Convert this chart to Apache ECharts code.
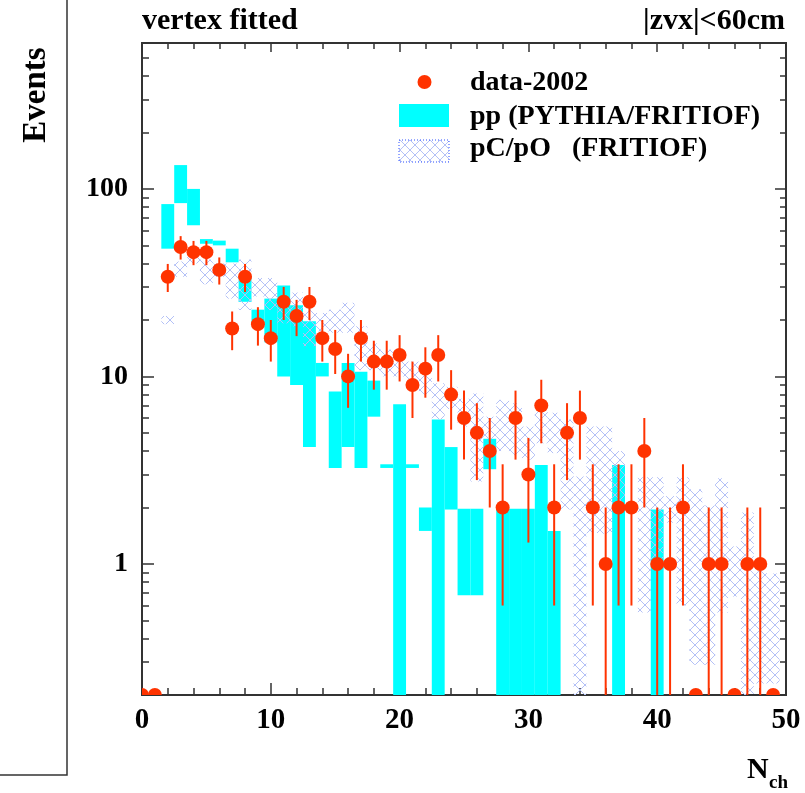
<!DOCTYPE html>
<html>
<head>
<meta charset="utf-8">
<script src="https://cdn.jsdelivr.net/npm/echarts@6/dist/echarts.min.js"></script>
<style>
  html, body { margin: 0; padding: 0; background: #fff; }
  #main { width: 805px; height: 793px; }
</style>
</head>
<body>
<div id="main"></div>
<script>
// N_ch bins (bin n spans n-0.5 .. n+0.5)
var nch = [0,1,2,3,4,5,6,7,8,9,10,11,12,13,14,15,16,17,18,19,20,21,22,23,24,
  25,26,27,28,29,30,31,32,33,34,35,36,37,38,39,40,41,42,43,44,45,46,47,48,49];

// data-2002
var dataVal = [0,0,34,49,46,46,37,18,34,19,16,25,21,25,16,14,10,16,12,12,13,9,11,13,8,
  6,5,4,2,6,3,7,2,5,6,2,1,2,2,4,1,1,2,0,1,1,0,1,1,0];
var dataErr = [0,0,5.8,7,6.8,6.8,6.1,4.2,5.8,4.4,4,5,4.6,5,4,3.7,3.2,4,3.5,3.5,3.6,3,3.3,3.6,2.8,
  2.4,2.2,2,1.4,2.4,1.7,2.6,1.4,2.2,2.4,1.4,1,1.4,1.4,2,1,1,1.4,0,1,1,0,1,1,0];

// pp (PYTHIA/FRITIOF) band
var ppLow = [null,null,48,84,64,51,50,40.6,25,19.5,15.2,10,9,4.2,10,3.25,4.2,3.25,6.1,3.25,0,3.25,1.5,0,1.95,
  0.68,0.68,3.2,0,0,0,0,0,null,null,null,null,0,null,null,0,null,null,null,null,null,null,null,null,null];
var ppHigh = [null,null,83,134,100,54,53,48,33,22.7,26,30.5,24,19.7,11.8,8.3,11.8,10.6,9.5,3.4,7.1,3.4,2,5.9,4.2,
  1.97,1.97,4.65,1.97,1.97,1.97,3.37,1.5,null,null,null,null,3.37,null,null,1.95,null,null,null,null,null,null,null,null,null];

// pC/pO (FRITIOF) band
var pcLow = [null,null,19,34,40,31,34,26,22.6,26.7,22.6,19.2,18.5,14.5,17.4,17.1,17.1,10.8,10.8,10,10,9.5,8,5.9,6.7,
  5.4,2.75,4.6,4,3.8,3.6,4.4,3.9,1.95,0,1.46,1.45,2,null,0.55,1,1.66,0.6,0.29,0.29,0.55,0.67,0,0.23,0.23];
var pcHigh = [null,null,21,41,45,42,40,40,42,33.5,33.5,26.7,28,22.7,21.8,22.7,24.7,18.5,15,13.9,12.8,12,11,9.2,8.8,
  7.6,8.1,6.1,7.5,7.2,5.4,6.6,6.4,5.9,2.93,5.4,5.4,4,null,2.9,2.9,2.3,2.9,2.5,2.05,2.86,1.24,1.88,1,0.89];

var yMajor = [1, 10, 100];
var yMinor = [0.2,0.3,0.4,0.5,0.6,0.7,0.8,0.9,2,3,4,5,6,7,8,9,20,30,40,50,60,70,80,90,200,300,400,500,600];
var yMin = 0.2, yMax = 600;

var red = '#ff3300';
var cyan = '#00ffff';
var serif = 'Liberation Serif';
var font = 'bold 28px "Liberation Serif"';

function makeHatch() {
  var c = document.createElement('canvas');
  c.width = 10; c.height = 10;
  var ctx = c.getContext('2d');
  ctx.strokeStyle = '#b3c0f6';
  ctx.lineWidth = 1;
  ctx.beginPath();
  ctx.moveTo(0, 0); ctx.lineTo(10, 10);
  ctx.moveTo(10, 0); ctx.lineTo(0, 10);
  ctx.stroke();
  return c;
}
var hatch = {image: makeHatch(), repeat: 'repeat'};

function bandData(lo, hi) {
  var out = [];
  nch.forEach(function (n, i) {
    if (hi[i] != null) out.push([n, lo[i], hi[i]]);
  });
  return out;
}
var pointData = nch.map(function (n, i) { return [n, dataVal[i], dataErr[i]]; });

function bandRender(fill) {
  return function (params, api) {
    var n = api.value(0);
    var p1 = api.coord([n - 0.5, api.value(2)]);
    var p2 = api.coord([n + 0.5, Math.max(api.value(1), yMin * 0.5)]);
    return {
      type: 'rect',
      shape: {x: p1[0], y: p1[1], width: p2[0] - p1[0], height: p2[1] - p1[1]},
      style: {fill: fill}
    };
  };
}

function pointRender(params, api) {
  var n = api.value(0), v = api.value(1), e = api.value(2);
  var c = api.coord([n, Math.max(v, yMin)]);
  var kids = [];
  if (e > 0) {
    var top = api.coord([n, v + e]);
    var bot = api.coord([n, Math.max(v - e, yMin * 0.5)]);
    kids.push({type: 'line', shape: {x1: c[0], y1: top[1], x2: c[0], y2: bot[1]},
      style: {stroke: red, lineWidth: 2}});
  }
  kids.push({type: 'circle', shape: {cx: c[0], cy: c[1], r: 7}, style: {fill: red}});
  return {type: 'group', children: kids};
}

function yAxisOf(pos, ticks, len, labels) {
  return {
    type: 'log', min: yMin, max: yMax, position: pos,
    axisLine: {show: true, lineStyle: {color: '#333', width: 2}},
    axisTick: {show: true, inside: true, length: len, customValues: ticks,
      lineStyle: {color: '#333', width: 1.5}},
    axisLabel: labels ? {customValues: yMajor, margin: 14, color: '#000',
      fontFamily: serif, fontSize: 28, fontWeight: 'bold'} : {show: false},
    splitLine: {show: false},
    minorTick: {show: false}
  };
}

var option = {
  animation: false,
  backgroundColor: '#fff',
  grid: {left: 142, right: 19, top: 43, bottom: 98},
  xAxis: [
    {
      type: 'value', min: 0, max: 50, interval: 10, position: 'bottom',
      axisLine: {onZero: false, lineStyle: {color: '#333', width: 2}},
      axisTick: {inside: true, length: 12, lineStyle: {color: '#333', width: 1.5}},
      minorTick: {show: true, splitNumber: 5, length: 7, lineStyle: {color: '#333', width: 1.5}},
      splitLine: {show: false},
      axisLabel: {margin: 11, color: '#000', fontFamily: serif, fontSize: 29, fontWeight: 'bold'}
    },
    {
      type: 'value', min: 0, max: 50, interval: 10, position: 'top',
      axisLine: {onZero: false, lineStyle: {color: '#333', width: 2}},
      axisTick: {inside: true, length: 9, lineStyle: {color: '#333', width: 1.5}},
      minorTick: {show: true, splitNumber: 5, length: 6, lineStyle: {color: '#333', width: 1.5}},
      splitLine: {show: false},
      axisLabel: {show: false}
    }
  ],
  yAxis: [
    yAxisOf('left', yMajor, 12, true),
    yAxisOf('left', yMinor, 7, false),
    yAxisOf('right', yMajor, 11, false),
    yAxisOf('right', yMinor, 6, false)
  ],
  series: [
    {
      name: 'pp (PYTHIA/FRITIOF)', type: 'custom', clip: true,
      renderItem: bandRender(cyan), data: bandData(ppLow, ppHigh),
      encode: {x: 0, y: 2}, z: 2
    },
    {
      name: 'pC/pO (FRITIOF)', type: 'custom', clip: true,
      renderItem: bandRender(hatch), data: bandData(pcLow, pcHigh),
      encode: {x: 0, y: 2}, z: 3
    },
    {
      name: 'data-2002', type: 'custom', clip: true,
      renderItem: pointRender, data: pointData,
      encode: {x: 0, y: 1}, z: 4
    }
  ],
  graphic: [
    // left label box
    {type: 'polyline', shape: {points: [[67, 0], [67, 775], [0, 775]]},
      style: {stroke: '#333', lineWidth: 1.5, fill: null}},
    {type: 'text', x: 36, y: 95, rotation: Math.PI / 2,
      style: {text: 'Events', font: 'bold 33px "Liberation Serif"', fill: '#000',
        align: 'center', verticalAlign: 'middle'}},
    // titles
    {type: 'text', x: 142, y: 21,
      style: {text: 'vertex fitted', font: 'bold 30px "Liberation Serif"', fill: '#000',
        align: 'left', verticalAlign: 'middle'}},
    {type: 'text', x: 785, y: 21,
      style: {text: '|zvx|<60cm', font: 'bold 30px "Liberation Serif"', fill: '#000',
        align: 'right', verticalAlign: 'middle'}},
    // legend
    {type: 'circle', shape: {cx: 424.5, cy: 82, r: 7}, style: {fill: red}},
    {type: 'rect', shape: {x: 399, y: 104, width: 50, height: 23}, style: {fill: cyan}},
    {type: 'rect', shape: {x: 399, y: 140, width: 50, height: 22},
      style: {fill: hatch, stroke: '#2a4cff', lineWidth: 1, lineDash: [1, 2]}},
    {type: 'text', x: 470, y: 83,
      style: {text: 'data-2002', font: font, fill: '#000', verticalAlign: 'middle'}},
    {type: 'text', x: 470, y: 117,
      style: {text: 'pp (PYTHIA/FRITIOF)', font: font, fill: '#000', verticalAlign: 'middle'}},
    {type: 'text', x: 470, y: 149,
      style: {text: 'pC/pO   (FRITIOF)', font: font, fill: '#000', verticalAlign: 'middle'}},
    // x axis title
    {type: 'text', x: 747, y: 770,
      style: {text: 'N', font: 'bold 30px "Liberation Serif"', fill: '#000', verticalAlign: 'middle'}},
    {type: 'text', x: 769, y: 783,
      style: {text: 'ch', font: 'bold 19px "Liberation Serif"', fill: '#000', verticalAlign: 'middle'}}
  ]
};

var chart = echarts.init(document.getElementById('main'));
chart.setOption(option);
</script>
</body>
</html>
